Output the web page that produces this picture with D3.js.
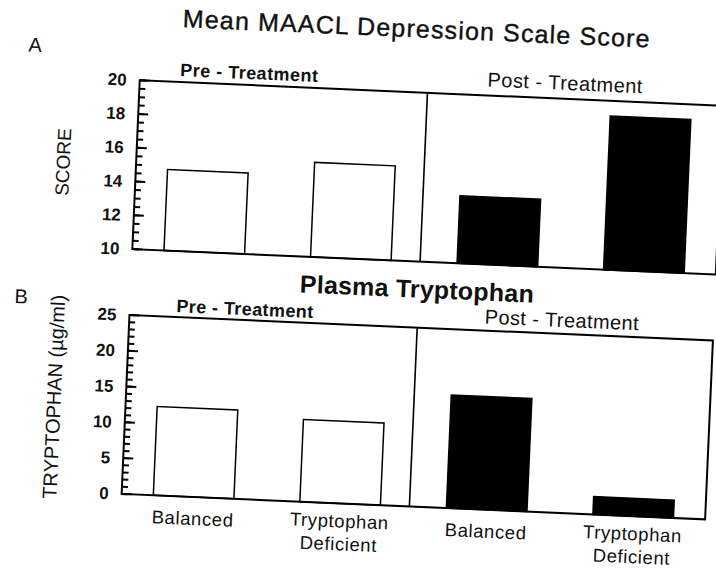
<!DOCTYPE html>
<html>
<head>
<meta charset="utf-8">
<script src="https://cdn.jsdelivr.net/npm/d3@7"></script>
<style>
body { margin: 0; background: #fff; }
text { font-family: "Liberation Sans", Arial, Helvetica, sans-serif; fill: #111; }
</style>
</head>
<body>
<svg id="chart" width="716" height="569"></svg>
<script>
// data
var phases = ["Pre - Treatment", "Post - Treatment"];
var barPhase = ["Pre - Treatment", "Pre - Treatment", "Post - Treatment", "Post - Treatment"];
var diets = [["Balanced"], ["Tryptophan", "Deficient"], ["Balanced"], ["Tryptophan", "Deficient"]];
var maaclScore = [14.8, 15.6, 14.0, 19.1];
var plasmaTrp = [12.4, 11.5, 15.8, 2.5];
var maaclTicks = [10, 12, 14, 16, 18, 20];
var trpTicks = [0, 5, 10, 15, 20, 25];

var svg = d3.select("#chart");
svg.append("rect").attr("width", 716).attr("height", 569).attr("fill", "white");

// the scan is tilted a little, so the whole figure is too
var g = svg.append("g").attr("transform", "rotate(2.5 358 285)");

var left = 131, right = 715;
var x = d3.scaleBand().domain(d3.range(diets.length)).range([left, right])
    .paddingInner(0.45).paddingOuter(0.216);
var color = d3.scaleOrdinal().domain(phases).range(["white", "black"]);

function ticks(p, y, vals, len) {
  p.append("g")
    .selectAll("line")
    .data(vals)
    .enter().append("line")
      .attr("x1", left).attr("x2", left + len)
      .attr("y1", function(d) { return y(d); })
      .attr("y2", function(d) { return y(d); })
      .attr("stroke", "black").attr("stroke-width", 2);
}

function panel(top, bottom, domain, majors, minorStep, values, fmt) {
  var y = d3.scaleLinear().domain(domain).range([bottom, top]);
  var p = g.append("g");

  p.selectAll("rect.bar")
    .data(values)
    .enter().append("rect")
      .attr("class", "bar")
      .attr("x", function(d, i) { return x(i); })
      .attr("width", x.bandwidth())
      .attr("y", function(d) { return y(d); })
      .attr("height", function(d) { return bottom - y(d); })
      .attr("fill", function(d, i) { return color(barPhase[i]); })
      .attr("stroke", "black")
      .attr("stroke-width", 1.5);

  p.append("rect")
      .attr("x", left).attr("y", top)
      .attr("width", right - left).attr("height", bottom - top)
      .attr("fill", "none").attr("stroke", "black").attr("stroke-width", 2);

  var xd = x(2) - x.step() * x.paddingInner() / 2 - 4;
  p.append("line")
      .attr("x1", xd).attr("x2", xd).attr("y1", top).attr("y2", bottom)
      .attr("stroke", "black").attr("stroke-width", 1.6);

  // ticks point into the plot; small ones between the labelled ones
  ticks(p, y, d3.range(domain[0], domain[1] + 1e-9, minorStep), 6);
  ticks(p, y, majors, 10);

  var ax = p.append("g")
      .attr("transform", "translate(" + left + ",0)")
      .call(d3.axisLeft(y).tickValues(majors).tickSize(0).tickPadding(13).tickFormat(fmt));
  ax.select(".domain").remove();
  ax.selectAll("text")
      .attr("font-family", "'Liberation Sans', Arial, sans-serif")
      .attr("font-size", 17)
      .attr("font-weight", "bold")
      .attr("fill", "#111");
  return y;
}

// panel A
panel(90, 259, [10, 20], maaclTicks, 0.5, maaclScore, d3.format("d"));
// panel B
panel(325, 504, [0, 25], trpTicks, 1, plasmaTrp, d3.format("d"));

function label(txt, px, py, size, weight, len) {
  var t = g.append("text")
      .attr("x", px).attr("y", py)
      .attr("text-anchor", "middle")
      .attr("font-size", size)
      .attr("font-weight", weight)
      .text(txt);
  if (len) t.attr("textLength", len).attr("lengthAdjust", "spacing");
  return t;
}

label("A", 25, 66, 20, "normal");
label("B", 22, 318, 20, "normal");
label("Mean MAACL Depression Scale Score", 405, 35, 25, "normal", 467)
    .attr("stroke", "#111").attr("stroke-width", 0.4);
label("Plasma Tryptophan", 417, 295, 25, "bold", 234);

label(phases[0], 240, 84, 18, "bold", 138);
label(phases[1], 556, 81, 20, "normal", 155);
label(phases[0], 246, 320, 18, "bold", 137);
label(phases[1], 563, 318, 20, "normal", 154);

g.append("text")
    .attr("transform", "translate(58,175) rotate(-90)")
    .attr("text-anchor", "middle").attr("dy", "0.35em")
    .attr("font-size", 19)
    .text("SCORE");
g.append("text")
    .attr("transform", "translate(59,410) rotate(-90)")
    .attr("text-anchor", "middle").attr("dy", "0.35em")
    .attr("font-size", 20)
    .text("TRYPTOPHAN (µg/ml)");

// category labels under panel B
diets.forEach(function(lines, i) {
  var cx = x(i) + x.bandwidth() / 2;
  var t = g.append("text")
      .attr("text-anchor", "middle")
      .attr("font-size", 18.5)
      .attr("letter-spacing", 0.6);
  lines.forEach(function(s, j) {
    t.append("tspan")
        .attr("x", cx)
        .attr("y", lines.length == 1 ? 532 : 528 + 23 * j)
        .text(s);
  });
});
</script>
</body>
</html>
